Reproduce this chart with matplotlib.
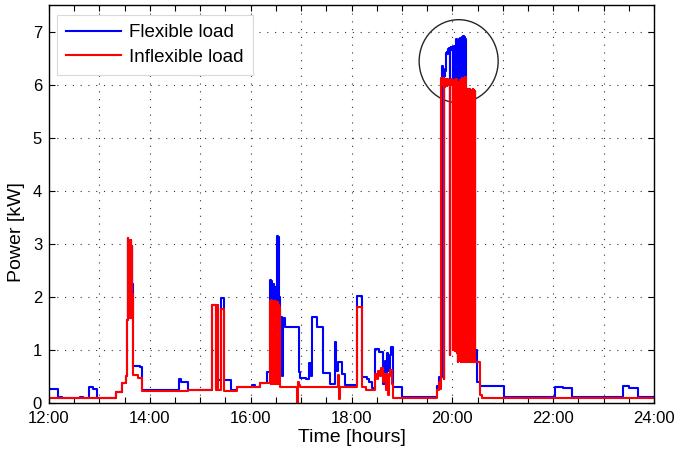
import matplotlib
matplotlib.use('Agg')
import matplotlib.pyplot as plt
from matplotlib.patches import Ellipse
from matplotlib.ticker import MultipleLocator, FuncFormatter

plt.rcParams['font.family'] = ['Liberation Sans', 'DejaVu Sans']

# step breakpoints: time [hours], power [kW]
# --- before first burst
flex_t_1 = [12.00, 12.17, 12.22, 12.26, 12.62, 12.68, 12.80, 12.88, 12.96, 13.33, 13.44, 13.53]
flex_p_1 = [0.27, 0.10, 0.12, 0.10, 0.12, 0.10, 0.30, 0.27, 0.10, 0.20, 0.38, 0.50]
infl_t_1 = [12.00, 13.33, 13.44, 13.53]
infl_p_1 = [0.10, 0.20, 0.38, 0.50]

# --- burst around 13:35
burst_a_t = [13.55, 13.56, 13.57, 13.58, 13.59, 13.60, 13.61, 13.62, 13.63, 13.64, 13.65, 13.66]
flex_a = [1.57, 3.10, 1.62, 3.08, 1.65, 3.05, 1.60, 3.07, 1.95, 2.95, 2.25, 2.25]
infl_a = [1.57, 3.10, 1.62, 3.08, 1.65, 3.05, 1.60, 3.07, 1.95, 2.95, 1.60, 2.05]

# --- 13:40 to 16:23
flex_t_2 = [13.67, 13.80, 13.85, 14.57, 14.62, 14.76, 15.24, 15.32, 15.335, 15.36,
            15.41, 15.48, 15.61, 15.72, 16.02, 16.09, 16.19, 16.32]
flex_p_2 = [0.70, 0.67, 0.25, 0.45, 0.40, 0.25, 1.84, 0.30, 1.84, 0.43,
            1.98, 0.43, 0.24, 0.31, 0.33, 0.31, 0.38, 0.58]
infl_t_2 = [13.67, 13.77, 13.85, 14.76, 15.24, 15.32, 15.335, 15.36, 15.41, 15.48, 15.72, 16.19]
infl_p_2 = [0.52, 0.48, 0.23, 0.24, 1.84, 0.24, 1.84, 0.24, 1.78, 0.23, 0.31, 0.38]

# --- burst around 16:25
burst_b_t = [16.39, 16.40, 16.41, 16.42, 16.43, 16.44, 16.45, 16.46, 16.47, 16.48,
             16.49, 16.50, 16.51, 16.52, 16.53, 16.54, 16.55, 16.56, 16.57]
flex_b = [2.32, 0.40, 2.30, 0.42, 2.20, 0.40, 2.25, 0.45, 2.15, 0.40,
          2.18, 0.42, 2.05, 0.40, 3.14, 0.45, 3.12, 0.40, 2.00]
infl_b = [1.92, 0.36, 1.95, 0.40, 1.90, 0.36, 1.93, 0.38, 1.90, 0.36,
          1.92, 0.40, 1.88, 0.36, 1.90, 0.38, 1.85, 0.36, 1.80]

# --- 16:35 to 19:47
flex_t_3 = [16.58, 16.63, 16.65, 16.68, 16.96, 16.98, 17.10, 17.16, 17.20, 17.21,
            17.31, 17.44, 17.58, 17.67, 17.70, 17.74, 17.81, 17.87, 18.10, 18.20,
            18.30, 18.34, 18.40, 18.47, 18.55, 18.63, 18.66, 18.68, 18.70, 18.73,
            18.76, 18.79, 18.83, 19.00, 19.69, 19.74]
flex_p_3 = [1.62, 0.50, 1.60, 1.43, 0.59, 0.48, 0.45, 0.76, 0.50, 1.62,
            1.43, 0.57, 0.35, 1.14, 0.60, 0.78, 0.55, 0.33, 2.02, 0.49,
            0.45, 0.40, 0.28, 1.01, 0.97, 0.35, 0.80, 0.35, 0.95, 0.60,
            0.90, 1.05, 0.30, 0.12, 0.32, 0.49]
infl_t_3 = [16.58, 16.925, 16.94, 16.95, 16.97, 17.74, 17.76, 17.78, 18.10, 18.20,
            18.29, 18.47, 18.50, 18.53, 18.56, 18.59, 18.62, 18.65, 18.68, 18.70,
            18.72, 18.74, 18.77, 18.80, 18.83, 19.70, 19.74, 19.76]
infl_p_3 = [0.30, 0.00, 0.40, 0.33, 0.30, 0.53, 0.08, 0.31, 1.81, 0.31,
            0.25, 0.55, 0.45, 0.60, 0.50, 0.65, 0.40, 0.55, 0.25, 0.55,
            0.15, 0.50, 0.62, 0.35, 0.10, 0.24, 0.40, 0.26]

# --- evening peak 19:47 to 20:27
burst_c_t = [19.78, 19.79, 19.80, 19.81, 19.82, 19.83, 19.84, 19.85, 19.86, 19.87,
             19.88, 19.89, 19.90, 19.91, 19.92, 19.93, 19.94, 19.95, 19.96, 19.97,
             19.98, 19.99, 20.00, 20.01, 20.02, 20.03, 20.04, 20.05, 20.06, 20.07,
             20.08, 20.09, 20.10, 20.11, 20.12, 20.13, 20.14, 20.15, 20.16, 20.17,
             20.18, 20.19, 20.20, 20.21, 20.22, 20.23, 20.24, 20.25, 20.26, 20.27,
             20.28, 20.29, 20.30, 20.31, 20.32, 20.33, 20.34, 20.35, 20.36, 20.37,
             20.38, 20.39, 20.40, 20.41, 20.42, 20.43, 20.44]
flex_c = [0.49, 6.30, 6.35, 6.32, 6.30, 0.45, 6.20, 6.17, 6.25, 6.45,
          6.60, 6.62, 6.58, 6.65, 6.67, 6.65, 6.68, 0.90, 6.67, 6.70,
          6.66, 6.70, 6.70, 1.00, 6.68, 1.02, 6.72, 0.98, 6.70, 1.00,
          6.85, 0.95, 6.72, 0.78, 6.82, 0.80, 6.85, 0.82, 6.88, 0.78,
          6.80, 0.80, 6.90, 0.78, 6.92, 0.80, 6.89, 0.78, 6.85, 0.80,
          5.90, 0.78, 5.92, 0.80, 5.88, 0.78, 5.92, 0.80, 5.90, 0.78,
          5.88, 0.80, 5.92, 0.78, 5.90, 0.80, 5.88]
infl_c = [6.13, 6.05, 6.10, 6.00, 6.12, 0.45, 6.05, 5.95, 6.10, 6.02,
          6.08, 5.98, 6.10, 6.05, 6.00, 6.08, 6.02, 0.90, 6.06, 6.00,
          6.10, 6.04, 6.05, 1.00, 6.00, 1.02, 6.08, 0.98, 6.02, 1.00,
          6.10, 0.95, 6.00, 0.78, 6.05, 0.80, 5.98, 0.82, 6.08, 0.78,
          6.00, 0.80, 6.12, 0.78, 6.00, 0.80, 6.05, 0.78, 6.15, 0.80,
          5.90, 0.78, 5.92, 0.80, 5.88, 0.78, 5.92, 0.80, 5.90, 0.78,
          5.88, 0.80, 5.92, 0.78, 5.90, 0.80, 5.88]

# --- after the peak
flex_t_4 = [20.45, 20.49, 20.55, 21.03, 22.04, 22.20, 22.37, 23.38, 23.50, 23.69, 24.00]
flex_p_4 = [1.00, 0.40, 0.32, 0.12, 0.31, 0.28, 0.12, 0.32, 0.28, 0.12, 0.12]
infl_t_4 = [20.45, 20.54, 20.58, 24.00]
infl_p_4 = [0.78, 0.15, 0.10, 0.10]

flex_t = flex_t_1 + burst_a_t + flex_t_2 + burst_b_t + flex_t_3 + burst_c_t + flex_t_4
flex_p = flex_p_1 + flex_a + flex_p_2 + flex_b + flex_p_3 + flex_c + flex_p_4
infl_t = infl_t_1 + burst_a_t + infl_t_2 + burst_b_t + infl_t_3 + burst_c_t + infl_t_4
infl_p = infl_p_1 + infl_a + infl_p_2 + infl_b + infl_p_3 + infl_c + infl_p_4

fig = plt.figure(figsize=(6.76, 4.53), dpi=100)
ax = fig.add_axes([0.0725, 0.1104, 0.895, 0.8786])

ax.plot(flex_t, flex_p, color='#0000ff', lw=1.5, drawstyle='steps-post', label='Flexible load')
ax.plot(infl_t, infl_p, color='#ff0000', lw=1.5, drawstyle='steps-post', label='Inflexible load')

# highlight of the evening peak
ax.add_patch(Ellipse((20.125, 6.44), 1.567, 1.566, fill=False, edgecolor='0.15', lw=1.0))

ax.set_xlim(12, 24)
ax.set_ylim(0, 7.5)
ax.xaxis.set_major_locator(MultipleLocator(1))
ax.xaxis.set_minor_locator(MultipleLocator(0.5))
ax.xaxis.set_major_formatter(FuncFormatter(lambda v, pos: '%d:00' % v if int(round(v)) % 2 == 0 else ''))
ax.yaxis.set_major_locator(MultipleLocator(1))
ax.tick_params(which='both', direction='in', top=True, right=True, length=4, width=0.8,
               labelsize=12)
ax.tick_params(axis='x', pad=6)
ax.tick_params(axis='y', pad=5)
ax.grid(True, which='major', linestyle=(0, (1, 6)), color='0.2', lw=0.8)
for s in ax.spines.values():
    s.set_linewidth(1.0)

ax.set_xlabel('Time [hours]', fontsize=14)
ax.set_ylabel('Power [kW]', fontsize=14)
ax.xaxis.set_label_coords(0.5, -0.066)
ax.yaxis.set_label_coords(-0.04, 0.43)

leg = ax.legend(loc='upper left', bbox_to_anchor=(0.013, 0.975), borderaxespad=0,
                fontsize=13.5, handlelength=2.9, labelspacing=0.4, fancybox=False,
                framealpha=1, edgecolor='0.85', borderpad=0.5, handletextpad=0.45)
leg.get_frame().set_linewidth(0.8)

fig.savefig('out.png', dpi=100)
